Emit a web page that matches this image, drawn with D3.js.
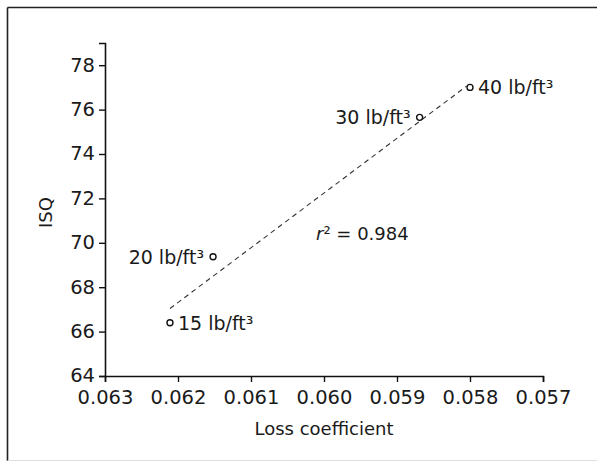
<!DOCTYPE html>
<html>
<head>
<meta charset="utf-8">
<script src="https://cdn.jsdelivr.net/npm/d3@7"></script>
<style>
  html, body { margin: 0; padding: 0; background: #fff; }
  svg { display: block; }
  text { font-family: "DejaVu Sans", "Liberation Sans", sans-serif; fill: #1a1a1a; }
</style>
</head>
<body>
<svg id="chart" width="597" height="464"></svg>
<script>
// ---- data ----
const densityLabels = ["15 lb/ft³", "20 lb/ft³", "30 lb/ft³", "40 lb/ft³"];
const lossCoefficient = [0.06211, 0.06152, 0.05869, 0.05800];
const isqValues = [66.4, 69.37, 75.65, 77.0];
const labelSide = ["right", "left", "left", "right"];
const fitLossCoefficient = [0.06211, 0.05805];
const fitIsq = [67.04, 77.05];
const xTicks = [0.063, 0.062, 0.061, 0.060, 0.059, 0.058, 0.057];
const yTicks = [64, 66, 68, 70, 72, 74, 76, 78];
const rSquared = "0.984";

// ---- layout ----
const W = 597, H = 464;
const margin = { left: 105, right: 54, top: 43, bottom: 88 };
const svg = d3.select("#chart");

// frame (scanned page border)
svg.append("line").attr("x1", 7.5).attr("x2", 597).attr("y1", 7.5).attr("y2", 7.5)
  .attr("stroke", "#222").attr("stroke-width", 1.6);
svg.append("line").attr("x1", 7.5).attr("x2", 7.5).attr("y1", 7.5).attr("y2", 461)
  .attr("stroke", "#222").attr("stroke-width", 1.6);
svg.append("line").attr("x1", 7.5).attr("x2", 597).attr("y1", 460.5).attr("y2", 460.5)
  .attr("stroke", "#ddd").attr("stroke-width", 1);

const x = d3.scaleLinear().domain([0.063, 0.057]).range([margin.left, W - margin.right]);
const y = d3.scaleLinear().domain([64, 79]).range([H - margin.bottom, margin.top]);

// x axis
const xAxis = svg.append("g")
  .attr("transform", `translate(0,${y(64)})`)
  .call(d3.axisBottom(x).tickValues(xTicks).tickFormat(d3.format(".3f")).tickSizeOuter(0).tickSize(6).tickPadding(8));
xAxis.select(".domain").attr("stroke", "#111").attr("stroke-width", 1.6);
xAxis.selectAll(".tick line").attr("stroke", "#111").attr("stroke-width", 1.4);
xAxis.selectAll("text").attr("font-size", 19.5).attr("fill", "#1a1a1a")
  .style("font-family", '"DejaVu Sans", sans-serif');

// y axis
const yAxis = svg.append("g")
  .attr("transform", `translate(${x(0.063)},0)`)
  .call(d3.axisLeft(y).tickValues(yTicks).tickSizeOuter(0).tickSize(6).tickPadding(4));
yAxis.select(".domain").attr("stroke", "#111").attr("stroke-width", 1.6);
yAxis.selectAll(".tick line").attr("stroke", "#111").attr("stroke-width", 1.4);
yAxis.selectAll("text").attr("font-size", 19.5).attr("fill", "#1a1a1a")
  .attr("dy", "0.3em")
  .style("font-family", '"DejaVu Sans", sans-serif');

// axis titles
svg.append("text")
  .attr("x", (x(0.063) + x(0.057)) / 2).attr("y", 435)
  .attr("text-anchor", "middle").attr("font-size", 18)
  .text("Loss coefficient");
svg.append("text")
  .attr("transform", `translate(52,${(y(64) + y(79)) / 2 + 3}) rotate(-90)`)
  .attr("text-anchor", "middle").attr("font-size", 18)
  .text("ISQ");

// fitted dashed line
const fit = fitLossCoefficient.map((v, i) => [v, fitIsq[i]]);
svg.append("path")
  .datum(fit)
  .attr("d", d3.line().x(d => x(d[0])).y(d => y(d[1])))
  .attr("fill", "none").attr("stroke", "#333").attr("stroke-width", 1.1)
  .attr("stroke-dasharray", "5,4");

// points
const pts = densityLabels.map((l, i) => ({ label: l, x: lossCoefficient[i], y: isqValues[i], side: labelSide[i] }));
svg.selectAll("circle.pt").data(pts).enter().append("circle")
  .attr("class", "pt")
  .attr("cx", d => x(d.x)).attr("cy", d => y(d.y)).attr("r", 3)
  .attr("fill", "#fff").attr("stroke", "#111").attr("stroke-width", 1.4);

svg.selectAll("text.pl").data(pts).enter().append("text")
  .attr("class", "pl")
  .attr("x", d => x(d.x) + (d.side === "right" ? 8 : -9))
  .attr("y", d => y(d.y) + 7)
  .attr("text-anchor", d => d.side === "right" ? "start" : "end")
  .attr("font-size", 19)
  .text(d => d.label);

// r^2 annotation
const r2 = svg.append("text").attr("x", 316).attr("y", 240).attr("font-size", 18);
r2.append("tspan").attr("font-style", "italic").text("r");
r2.append("tspan").text("² = " + rSquared);
</script>
</body>
</html>
